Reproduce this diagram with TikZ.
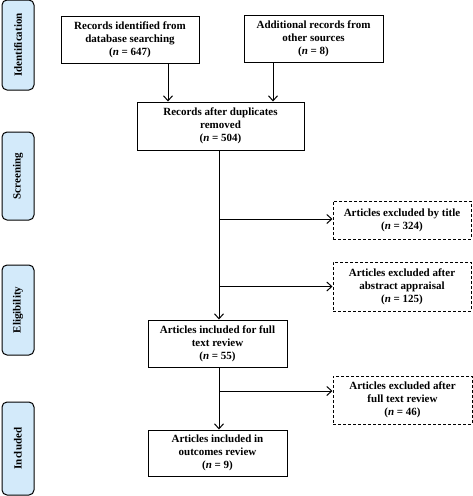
\documentclass[tikz,border=0pt]{standalone}
\usepackage{fontspec}
\setmainfont{Liberation Serif}
\usetikzlibrary{arrows.meta}
\definecolor{sidefill}{HTML}{D3EAFA}
\begin{document}
\begin{tikzpicture}[x=1pt,y=-1pt,
  box/.style={draw,line width=1pt,fill=white,inner sep=0pt,align=center,
    font=\fontsize{11}{13}\selectfont\bfseries},
  dbox/.style={box,dashed,dash pattern=on 3pt off 2pt},
  side/.style={draw,line width=1pt,fill=sidefill,rounded corners=5pt,inner sep=0pt,
    font=\fontsize{11}{13}\selectfont\bfseries},
  arr/.style={-{Straight Barb[length=5pt,width=9pt,line width=1pt]},line width=1pt}]
\useasboundingbox (0,0) rectangle (473,496);
% side labels
\node[side,minimum width=32pt,minimum height=90pt] (s1) at (18,45) {\rotatebox{90}{Identification}};
\node[side,minimum width=32pt,minimum height=88pt] (s2) at (18,176) {\rotatebox{90}{Screening}};
\node[side,minimum width=32pt,minimum height=90pt] (s3) at (18,310) {\rotatebox{90}{Eligibility}};
\node[side,minimum width=32pt,minimum height=93pt] (s4) at (18,448.5) {\rotatebox{90}{Included}};
% boxes
\node[box,minimum width=138pt,minimum height=47pt] (a) at (130,39.5) {Records identified from\\database searching\\(\textit{n} = 647)};
\node[box,minimum width=139pt,minimum height=47pt] (b) at (313.5,38.5) {Additional records from\\other sources\\(\textit{n} = 8)};
\node[box,minimum width=167pt,minimum height=48pt] (c) at (220.5,126) {Records after duplicates\\removed\\(\textit{n} = 504)};
\node[dbox,minimum width=138pt,minimum height=38pt] (d) at (402,220) {Articles excluded by title\\(\textit{n} = 324)};
\node[dbox,minimum width=138pt,minimum height=49pt] (e) at (402,286.5) {Articles excluded after\\abstract appraisal\\(\textit{n} = 125)};
\node[box,minimum width=139pt,minimum height=47pt] (f) at (217.5,343.5) {Articles included for full\\text review\\(\textit{n} = 55)};
\node[dbox,minimum width=139pt,minimum height=48pt] (g) at (402.5,400) {Articles excluded after\\full text review\\(\textit{n} = 46)};
\node[box,minimum width=139pt,minimum height=46pt] (h) at (217.5,453) {Articles included in\\outcomes review\\(\textit{n} = 9)};
% connectors
\draw[arr] (a.south -| 168,0) -- (c.north -| 168,0);
\draw[arr] (b.south -| 273,0) -- (c.north -| 273,0);
\coordinate (j1) at (219,219);
\coordinate (j2) at (219,286.5);
\coordinate (j3) at (219,391);
\draw[arr] (c.south -| j1) -- (f.north -| j1);
\draw[arr] (j1) -- (d.west |- j1);
\draw[arr] (j2) -- (e.west |- j2);
\draw[arr] (f.south -| j3) -- (h.north -| j3);
\draw[arr] (j3) -- (g.west |- j3);
\end{tikzpicture}
\end{document}
